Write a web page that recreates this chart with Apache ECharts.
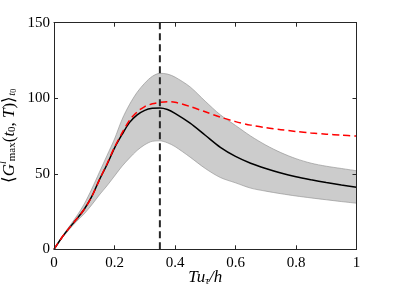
<!DOCTYPE html>
<html>
<head>
<meta charset="utf-8">
<script src="https://cdn.jsdelivr.net/npm/echarts@6/dist/echarts.min.js"></script>
<style>html,body{margin:0;padding:0;background:#fff}#c{width:395px;height:296px}</style>
</head>
<body>
<div id="c"></div>
<script>
var xs =    [0, 0.025, 0.05, 0.075, 0.1, 0.125, 0.15, 0.175, 0.2, 0.225, 0.25, 0.275, 0.3, 0.325, 0.35, 0.375, 0.4, 0.45, 0.5, 0.55, 0.6, 0.65, 0.7, 0.75, 0.8, 0.85, 0.9, 0.95, 1];
var meanG = [0, 7.5, 14, 20, 26.5, 35, 46, 56, 67, 76, 84, 89, 92, 93.3, 93.5, 92.5, 90, 83.5, 75.5, 67.5, 61.5, 57, 53.5, 50.5, 48, 46, 44.2, 42.5, 41];
var upperG = [0, 8, 15, 22, 30, 40, 51, 62, 73, 86, 96, 104, 110, 114.5, 116.5, 116, 114, 107.5, 98, 89, 82, 75, 69, 64, 60, 57, 55, 53.5, 52];
var lowerG = [0, 7, 13, 18.5, 23.5, 29.5, 36, 42, 48.5, 55, 60.5, 65.5, 69.2, 71.5, 71.8, 70.5, 68, 61, 53.5, 47.5, 44, 40.5, 38.5, 36.8, 35.3, 34, 32.8, 31.6, 30.5];
var redG =  [0, 7.5, 14, 20, 26.5, 35, 46, 56.5, 67.5, 77, 85.5, 91, 94.5, 96.3, 97.3, 97.7, 97.3, 94.5, 91, 87.5, 84.5, 82.2, 80.5, 79.2, 78, 77, 76.2, 75.5, 75];
var vLineX = 0.35;

function pairs(a){ return xs.map(function(x,i){ return [x, a[i]]; }); }

var font = 'Liberation Serif';
var axisCol = '#262626';
var chart = echarts.init(document.getElementById('c'), null, {renderer:'canvas'});
var baseAxis = {
  z:10,
  nameMoveOverlap:false,
  axisLine:{show:true, onZero:false, lineStyle:{color:axisCol, width:1}},
  axisTick:{show:true, inside:true, length:4, lineStyle:{color:axisCol, width:1}},
  splitLine:{show:false}
};
chart.setOption({
  animation:false,
  grid:{left:54, right:38.5, top:22.7, bottom:46.7, containLabel:false, outerBoundsMode:'none'},
  xAxis:[
    Object.assign({}, baseAxis, {type:'value', min:0, max:1, interval:0.2, position:'bottom',
      axisLabel:{color:'#000', fontFamily:font, fontSize:15, margin:6},
      name:'{i|Tu}{s|τ}{i|/h}', nameLocation:'middle', nameGap:17,
      nameTextStyle:{rich:{
        i:{fontFamily:font, fontStyle:'italic', fontSize:17, color:'#000', verticalAlign:'bottom', lineHeight:20},
        s:{fontFamily:font, fontStyle:'italic', fontSize:11, color:'#000', verticalAlign:'bottom', lineHeight:14}
      }}
    }),
    Object.assign({}, baseAxis, {type:'value', min:0, max:1, interval:0.2, position:'top', axisLabel:{show:false}})
  ],
  yAxis:[
    Object.assign({}, baseAxis, {type:'value', min:0, max:150, interval:50, position:'left',
      axisLabel:{color:'#000', fontFamily:font, fontSize:15, margin:4},
      name:'{n|⟨}{ni|G}{sp|l}{sb|max}{n|(}{ni|t}{sb|0}{n|, }{ni|T}{n|)⟩}{sbi|t}{sbb|0}',
      nameLocation:'middle', nameGap:36, nameRotate:90,
      nameTextStyle:{rich:{
        n:{fontFamily:font, fontSize:17, color:'#000', verticalAlign:'bottom', lineHeight:20},
        ni:{fontFamily:font, fontStyle:'italic', fontSize:17, color:'#000', verticalAlign:'bottom', lineHeight:20},
        sp:{fontFamily:font, fontStyle:'italic', fontSize:10, color:'#000', verticalAlign:'top', lineHeight:20},
        sb:{fontFamily:font, fontSize:11, color:'#000', verticalAlign:'bottom', lineHeight:14},
        sbi:{fontFamily:font, fontStyle:'italic', fontSize:11, color:'#000', verticalAlign:'bottom', lineHeight:14},
        sbb:{fontFamily:font, fontSize:8, color:'#000', verticalAlign:'bottom', lineHeight:11}
      }}
    }),
    Object.assign({}, baseAxis, {type:'value', min:0, max:150, interval:50, position:'right', axisLabel:{show:false}})
  ],
  series:[
    {type:'line', data:pairs(upperG), symbol:'none', smooth:0.3, lineStyle:{color:'#8c8c8c', width:0.6}, areaStyle:{color:'#cccccc', opacity:1}, silent:true, z:1},
    {type:'line', data:pairs(lowerG), symbol:'none', smooth:0.3, lineStyle:{color:'#8c8c8c', width:0.6}, areaStyle:{color:'#ffffff', opacity:1}, silent:true, z:1.5},
    {type:'line', data:pairs(meanG), symbol:'none', smooth:0.3, lineStyle:{color:'#000', width:1.5}, z:3},
    {type:'line', data:pairs(redG), symbol:'none', smooth:0.3, lineStyle:{color:'#ff0000', width:1.5, type:[7,4]}, z:4},
    {type:'line', data:[[vLineX,0],[vLineX,150]], symbol:'none', lineStyle:{color:'#262626', width:2, type:[7,4]}, z:5}
  ]
});
</script>
</body>
</html>
